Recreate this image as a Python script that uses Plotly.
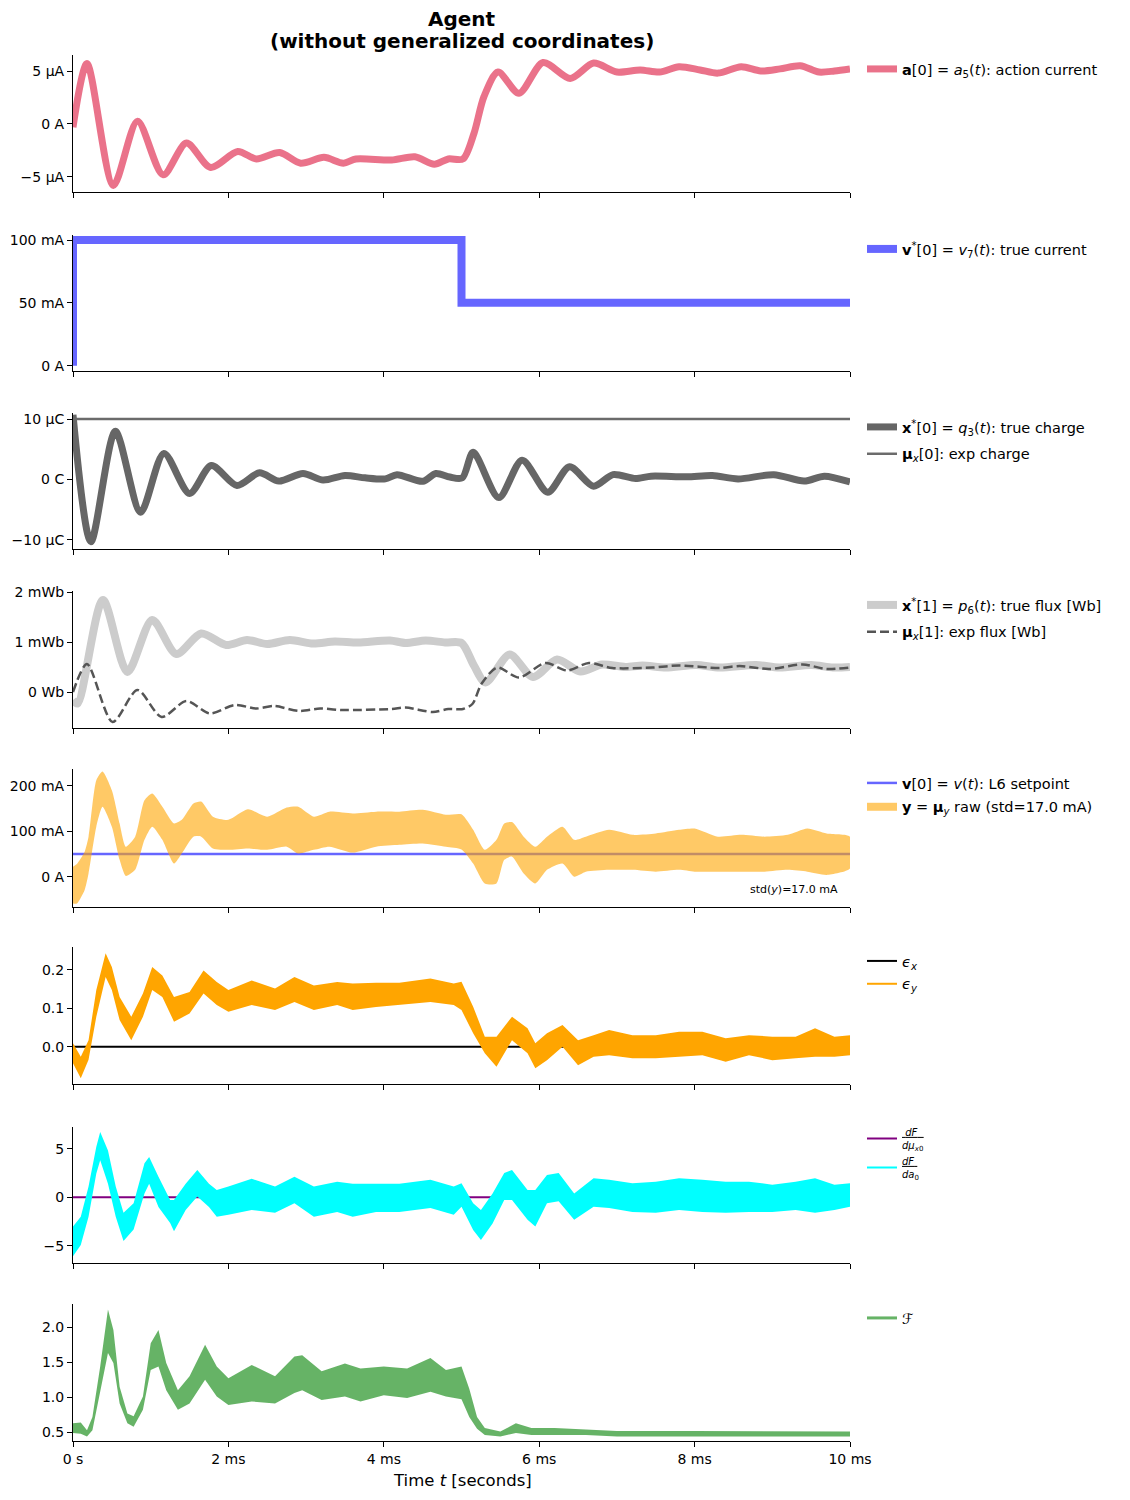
import plotly.graph_objects as go

FONT = "DejaVu Sans"

# ---------------- data (time in ms) ----------------
# a[0] action current [µA]
t_action = [0, 0.18, 0.52, 0.83, 1.16, 1.46, 1.77, 2.12, 2.36, 2.66, 2.93, 3.23, 3.48, 3.64,
            4.10, 4.40, 4.65, 4.83, 5.02, 5.16, 5.29, 5.47, 5.74, 6.05, 6.4, 6.7, 7.0, 7.3,
            7.55, 7.8, 8.07, 8.3, 8.6, 8.85, 9.1, 9.36, 9.6, 9.8, 10]
a_action = [-0.3, 5.7, -5.8, 0.25, -4.8, -1.8, -4.1, -2.6, -3.3, -2.7, -3.7, -3.15, -3.7, -3.3,
            -3.4, -3.1, -3.8, -3.3, -3.3, -0.9, 2.6, 4.9, 2.9, 5.8, 4.3, 5.75, 4.9, 5.1,
            4.9, 5.4, 5.1, 4.8, 5.4, 5.0, 5.2, 5.5, 4.9, 5.0, 5.2]

# v*[0] true current [mA]
t_true_cur = [0, 0, 5, 5, 10]
v_true_cur = [0, 100, 100, 50, 50]

# x*[0] true charge [µC], mu_x[0] expected charge [µC]
t_charge = [0, 0.23, 0.545, 0.87, 1.17, 1.50, 1.78, 2.11, 2.40, 2.65, 2.96, 3.22, 3.50, 3.76,
            4.02, 4.17, 4.50, 4.67, 4.85, 5.01, 5.15, 5.48, 5.78, 6.11, 6.39, 6.70, 6.95, 7.24,
            7.44, 7.90, 8.23, 8.56, 9.02, 9.41, 9.67, 10]
q_charge = [10.7, -10.3, 7.97, -5.4, 4.3, -2.3, 2.3, -1.0, 1.1, -0.27, 1.0, -0.1, 0.66, 0.27,
            0.1, 0.8, -0.3, 1.0, 0.4, 0.27, 4.5, -3.0, 3.2, -2.1, 2.1, -1.1, 0.8, 0.16,
            0.55, 0.44, 0.66, 0.1, 0.8, -0.27, 0.55, -0.4]
t_mu_charge = [0, 10]
mu_charge = [10, 10]

# x*[1] true flux [mWb], mu_x[1] expected flux [mWb]
t_flux = [0, 0.06, 0.385, 0.70, 1.02, 1.33, 1.65, 1.97, 2.24, 2.50, 2.79, 3.09, 3.37, 3.67,
          4.08, 4.28, 4.54, 4.79, 5.0, 5.16, 5.31, 5.62, 5.92, 6.23, 6.53, 6.81, 7.11, 7.33,
          7.63, 8.02, 8.32, 8.79, 9.09, 9.50, 9.78, 10]
p_flux = [-0.15, -0.22, 1.85, 0.41, 1.45, 0.77, 1.18, 0.95, 1.05, 0.97, 1.05, 0.98, 1.02, 1.0,
          1.04, 0.99, 1.04, 1.0, 0.99, 0.54, 0.2, 0.76, 0.31, 0.66, 0.42, 0.56, 0.51, 0.54,
          0.5, 0.55, 0.5, 0.55, 0.5, 0.55, 0.5, 0.51]
t_mu_flux = [0, 0.18, 0.51, 0.83, 1.14, 1.46, 1.76, 2.08, 2.36, 2.59, 2.91, 3.18, 3.46, 4.10,
             4.28, 4.63, 4.83, 5.02, 5.14, 5.26, 5.46, 5.74, 6.08, 6.36, 6.64, 6.94, 7.46, 7.80,
             8.32, 8.58, 8.96, 9.39, 9.70, 10]
mu_flux = [0.01, 0.57, -0.59, 0.05, -0.49, -0.17, -0.42, -0.25, -0.32, -0.27, -0.37, -0.32, -0.35, -0.33,
           -0.30, -0.39, -0.33, -0.33, -0.23, 0.18, 0.5, 0.3, 0.59, 0.44, 0.59, 0.49, 0.5, 0.54,
           0.49, 0.53, 0.47, 0.56, 0.47, 0.5]

# v[0] setpoint and raw observation y (upper / lower envelope of the noisy trace) [mA]
t_setpoint = [0, 10]
v_setpoint = [50, 50]
t_y = [0, 0.05, 0.15, 0.2, 0.3, 0.38, 0.5, 0.6, 0.68, 0.8, 0.92, 1.02, 1.15, 1.3, 1.4, 1.55,
       1.65, 1.8, 2.0, 2.25, 2.5, 2.75, 2.9, 3.1, 3.3, 3.6, 3.9, 4.2, 4.5, 4.8, 5.0, 5.15,
       5.3, 5.45, 5.55, 5.65, 5.8, 5.95, 6.1, 6.3, 6.45, 6.6, 6.9, 7.2, 7.5, 7.8, 8.0, 8.3,
       8.6, 8.9, 9.2, 9.45, 9.7, 10]
y_hi = [22, 28, 55, 88, 212, 231, 190, 117, 66, 88, 168, 183, 154, 117, 125, 161,
        165, 132, 125, 148, 132, 152, 154, 132, 143, 139, 143, 143, 147, 136, 137, 103,
        59, 81, 117, 120, 88, 66, 88, 110, 81, 88, 103, 92, 95, 103, 106, 88,
        92, 88, 92, 106, 95, 88]
y_lo = [-59, -59, -29, 7, 110, 154, 110, 37, 1.5, 15, 81, 110, 81, 29, 51, 88,
        88, 62, 59, 62, 59, 66, 51, 59, 66, 53, 66, 70, 73, 66, 60, 29,
        -15, -15, 37, 44, 7, -15, 15, 29, 0, 11, 15, 15, 11, 15, 11, 11,
        11, 11, 15, 11, 4, 18]
y_std_label = "std(<i>y</i>)=17.0 mA"

# prediction errors
t_eps_x = [0, 10]
eps_x = [0, 0]
t_eps = [0, 0.1, 0.2, 0.3, 0.42, 0.5, 0.6, 0.75, 0.9, 1.02, 1.15, 1.3, 1.5, 1.68, 1.85, 2.0,
         2.3, 2.6, 2.85, 3.1, 3.4, 3.6, 3.9, 4.2, 4.6, 4.9, 5.0, 5.15, 5.3, 5.45, 5.65, 5.85,
         5.95, 6.1, 6.3, 6.5, 6.7, 6.9, 7.2, 7.5, 7.8, 8.1, 8.4, 8.7, 9.0, 9.3, 9.55, 9.8, 10]
eps_y_hi = [0.009, -0.026, 0.017, 0.147, 0.243, 0.207, 0.129, 0.078, 0.138, 0.207, 0.185, 0.129,
            0.142, 0.198, 0.168, 0.147, 0.172, 0.151, 0.181, 0.159, 0.168, 0.164, 0.166, 0.166,
            0.177, 0.164, 0.169, 0.104, 0.026, 0.026, 0.078, 0.048, 0.009, 0.035, 0.056, 0.017,
            0.03, 0.043, 0.03, 0.03, 0.039, 0.039, 0.022, 0.03, 0.026, 0.026, 0.048, 0.026, 0.03]
eps_y_lo = [-0.043, -0.082, -0.034, 0.078, 0.181, 0.147, 0.069, 0.017, 0.078, 0.147, 0.129, 0.065,
            0.086, 0.138, 0.108, 0.091, 0.108, 0.095, 0.116, 0.095, 0.108, 0.095, 0.103, 0.108,
            0.116, 0.108, 0.095, 0.035, -0.017, -0.052, 0.017, -0.017, -0.056, -0.035, 0.0, -0.048,
            -0.026, -0.022, -0.03, -0.03, -0.026, -0.022, -0.039, -0.022, -0.035, -0.03, -0.026,
            -0.026, -0.022]

# free-energy gradients
t_dmu = [0, 10]
dF_dmu = [0, 0]
t_grad = [0, 0.1, 0.2, 0.3, 0.35, 0.45, 0.55, 0.65, 0.78, 0.92, 0.98, 1.1, 1.25, 1.3, 1.45, 1.6,
          1.75, 1.85, 2.0, 2.3, 2.6, 2.85, 3.1, 3.4, 3.6, 3.9, 4.2, 4.6, 4.9, 5.0, 5.15, 5.25,
          5.4, 5.55, 5.65, 5.85, 5.95, 6.1, 6.25, 6.45, 6.7, 6.9, 7.2, 7.5, 7.8, 8.1, 8.4, 8.7,
          9.0, 9.3, 9.55, 9.8, 10]
dF_da_hi = [-3.0, -2.0, 1.1, 5.2, 6.7, 4.8, 1.1, -1.6, -0.6, 3.5, 4.15, 2.1, -0.27, -0.27, 1.4, 2.8,
            1.4, 0.75, 1.1, 1.9, 1.1, 2.1, 1.1, 1.6, 1.4, 1.4, 1.4, 1.8, 1.1, 1.44, -0.6, -1.3,
            0.4, 2.5, 2.8, 0.75, 0.75, 2.3, 2.5, 0.4, 1.95, 1.8, 1.44, 1.6, 1.95, 1.8, 1.6, 1.6,
            1.3, 1.6, 1.95, 1.3, 1.44]
dF_da_lo = [-6.05, -4.9, -2.0, 2.45, 3.8, 1.4, -2.0, -4.5, -3.3, 0.4, 1.4, -1.0, -2.65, -3.5, -1.3, 0.07,
            -1.0, -2.0, -1.8, -1.3, -1.6, -0.6, -2.0, -1.5, -2.0, -1.5, -1.5, -1.1, -1.8, -0.96, -3.36, -4.4,
            -2.7, -0.27, -0.27, -2.3, -3.0, -0.6, -0.4, -2.3, -0.96, -1.1, -1.5, -1.6, -1.3, -1.5, -1.6, -1.5,
            -1.5, -1.3, -1.6, -1.3, -0.96]

# free energy F
t_F = [0, 0.1, 0.18, 0.25, 0.35, 0.45, 0.52, 0.6, 0.7, 0.78, 0.9, 1.0, 1.1, 1.2, 1.35, 1.5,
       1.7, 1.85, 2.0, 2.3, 2.6, 2.85, 2.95, 3.2, 3.5, 3.7, 4.0, 4.3, 4.6, 4.8, 5.0, 5.1,
       5.2, 5.3, 5.5, 5.7, 5.9, 6.2, 6.6, 7.0, 8.0, 9.0, 10]
F_hi = [0.63, 0.64, 0.53, 0.72, 1.44, 2.25, 1.96, 1.15, 0.77, 0.73, 1.01, 1.77, 1.96, 1.49, 1.1, 1.3,
        1.75, 1.44, 1.27, 1.46, 1.3, 1.58, 1.6, 1.37, 1.48, 1.41, 1.44, 1.41, 1.56, 1.39, 1.44, 1.12,
        0.72, 0.56, 0.51, 0.63, 0.56, 0.56, 0.54, 0.52, 0.52, 0.52, 0.51]
F_lo = [0.49, 0.48, 0.44, 0.53, 1.1, 1.63, 1.49, 0.91, 0.63, 0.58, 0.82, 1.39, 1.44, 1.1, 0.82, 0.91,
        1.25, 1.01, 0.89, 0.94, 0.91, 1.06, 1.1, 0.96, 1.01, 0.94, 1.03, 0.99, 1.08, 1.01, 0.97, 0.72,
        0.55, 0.46, 0.44, 0.49, 0.46, 0.46, 0.46, 0.44, 0.44, 0.44, 0.44]

x_tickvals = [0, 2, 4, 6, 8, 10]
x_ticktext = ["0 s", "2 ms", "4 ms", "6 ms", "8 ms", "10 ms"]

# ---------------- figure ----------------
W, H = 1130, 1500
OFF = 8  # page body margin; pixel positions below are in screen coordinates


def px(x):
    return (x - OFF) / W


def py(y):
    return 1 - (y - OFF) / H


fig = go.Figure()


def ax_names(i):
    return ("x", "y", "legend") if i == 1 else ("x%d" % i, "y%d" % i, "legend%d" % i)


def add_line(i, t, v, name, color, width, dash="solid", shape="spline"):
    xa, ya, lg = ax_names(i)
    fig.add_trace(go.Scatter(
        x=t, y=v, mode="lines", name=name, legendgroup=name,
        line=dict(color=color, width=width, dash=dash, shape=shape, smoothing=0.8),
        xaxis=xa, yaxis=ya, legend=lg, hoverinfo="skip"))


def add_band(i, t, hi, lo, name, color, legend_width, shape="linear"):
    # noisy trace drawn as its envelope
    xa, ya, lg = ax_names(i)
    fig.add_trace(go.Scatter(
        x=list(t) + list(t)[::-1], y=list(hi) + list(lo)[::-1], mode="lines", fill="toself",
        fillcolor=color, line=dict(width=0, color=color, shape=shape, smoothing=0.6),
        xaxis=xa, yaxis=ya, showlegend=False, hoverinfo="skip"))
    # legend handle drawn as a line, like the reference
    fig.add_trace(go.Scatter(
        x=[None], y=[None], mode="lines", name=name, legendgroup=name,
        line=dict(color=color, width=legend_width), xaxis=xa, yaxis=ya, legend=lg))


add_line(1, t_action, a_action, "<b>a</b>[0] = <i>a</i><sub>5</sub>(<i>t</i>): action current",
         "rgba(220,20,60,0.6)", 7)
add_line(2, t_true_cur, v_true_cur, "<b>v</b><sup>*</sup>[0] = <i>v</i><sub>7</sub>(<i>t</i>): true current",
         "rgba(0,0,255,0.6)", 8, shape="linear")
add_line(3, t_charge, q_charge, "<b>x</b><sup>*</sup>[0] = <i>q</i><sub>3</sub>(<i>t</i>): true charge",
         "#666666", 7)
add_line(3, t_mu_charge, mu_charge, "<b>μ</b><sub><i>x</i></sub>[0]: exp charge", "#6b6b6b", 2.5,
         shape="linear")
add_line(4, t_flux, p_flux, "<b>x</b><sup>*</sup>[1] = <i>p</i><sub>6</sub>(<i>t</i>): true flux [Wb]",
         "#cccccc", 8)
add_line(4, t_mu_flux, mu_flux, "<b>μ</b><sub><i>x</i></sub>[1]: exp flux [Wb]", "#555555", 2.5,
         dash="9px,4px")
add_line(5, t_setpoint, v_setpoint, "<b>v</b>[0] = <i>v</i>(<i>t</i>): L6 setpoint",
         "rgba(0,0,255,0.6)", 2.5, shape="linear")
add_band(5, t_y, y_hi, y_lo, "<b>y</b> = <b>μ</b><sub><i>y</i></sub> raw (std=17.0 mA)",
         "rgba(255,165,0,0.6)", 8, shape="spline")
add_line(6, t_eps_x, eps_x, "<i>ϵ</i><sub><i>x</i></sub>", "black", 2, shape="linear")
add_band(6, t_eps, eps_y_hi, eps_y_lo, "<i>ϵ</i><sub><i>y</i></sub>", "#ffa500", 2)
add_line(7, t_dmu, dF_dmu,
         "<span style='text-decoration:underline'>\u00a0<i>dF</i>\u00a0\u00a0</span><br><i>dμ</i><sub><i>x</i>0</sub>",
         "purple", 2, shape="linear")
add_band(7, t_grad, dF_da_hi, dF_da_lo,
         "<span style='text-decoration:underline'><i>dF</i>\u00a0</span><br><i>da</i><sub>0</sub>", "#00ffff", 2)
add_band(8, t_F, F_hi, F_lo, "<i>ℱ</i>", "rgba(0,128,0,0.6)", 3)

# panel geometry in screen pixels (top, bottom) and y ranges
panels = [(55, 192), (235, 371), (413, 549), (591, 728), (769, 907), (947, 1084), (1127, 1263), (1304, 1441)]
y_ranges = [[-6.42, 6.51], [-4.2, 104], [-11.5, 11.0], [-0.71, 2.03],
            [-66.6, 236.7], [-0.097, 0.259], [-6.75, 7.22], [0.376, 2.33]]
y_ticks = [
    ([-5, 0, 5], ["−5 µA", "0 A", "5 µA"]),
    ([0, 50, 100], ["0 A", "50 mA", "100 mA"]),
    ([-10, 0, 10], ["−10 µC", "0 C", "10 µC"]),
    ([0, 1, 2], ["0 Wb", "1 mWb", "2 mWb"]),
    ([0, 100, 200], ["0 A", "100 mA", "200 mA"]),
    ([0, 0.1, 0.2], ["0.0", "0.1", "0.2"]),
    ([-5, 0, 5], ["−5", "0", "5"]),
    ([0.5, 1.0, 1.5, 2.0], ["0.5", "1.0", "1.5", "2.0"]),
]
legend_gap = [2, 2, 5, 5, 2, 1, 0, 2]
legend_font = [14.5, 14.5, 14.5, 14.5, 14.5, 14.5, 10, 14.5]
legend_drop = [2, 2, 2, 2, 2, 2, 8, 2]

layout = dict(
    width=W, height=H, margin=dict(l=0, r=0, t=0, b=0, autoexpand=False),
    paper_bgcolor="white", plot_bgcolor="white",
    font=dict(family=FONT, size=14, color="black"),
)
axis_common = dict(showline=True, linecolor="black", linewidth=1, ticks="outside", ticklen=5,
                   tickwidth=1, tickcolor="black", showgrid=False, zeroline=False, automargin=False,
                   tickfont=dict(family=FONT, size=14, color="black"))
for i, ((top, bot), yr, (tv, tt)) in enumerate(zip(panels, y_ranges, y_ticks), start=1):
    sfx = "" if i == 1 else str(i)
    layout["xaxis" + sfx] = dict(axis_common, domain=[px(73), px(850)], range=[0, 10], anchor="y" + sfx,
                                 tickvals=x_tickvals, ticktext=x_ticktext, showticklabels=(i == 8))
    layout["yaxis" + sfx] = dict(axis_common, domain=[py(bot), py(top)], range=yr,
                                 anchor="x" + sfx, tickvals=tv, ticktext=tt)
    layout["legend" + sfx] = dict(x=px(862), y=py(top - legend_drop[i - 1]), xanchor="left", yanchor="top",
                                  bgcolor="rgba(0,0,0,0)",
                                  font=dict(family=FONT, size=legend_font[i - 1], color="black"),
                                  itemwidth=30, tracegroupgap=legend_gap[i - 1])
fig.update_layout(**layout)

fig.add_annotation(text="<b>Agent</b>", x=px(462), y=py(19), xref="paper", yref="paper",
                   xanchor="center", yanchor="middle", showarrow=False,
                   font=dict(family=FONT, size=20, color="black"))
fig.add_annotation(text="<b>(without generalized coordinates)</b>", x=px(462), y=py(41), xref="paper",
                   yref="paper", xanchor="center", yanchor="middle", showarrow=False,
                   font=dict(family=FONT, size=20, color="black"))
fig.add_annotation(text="Time <i>t</i> [seconds]", x=px(462), y=py(1480), xref="paper", yref="paper",
                   xanchor="center", yanchor="middle", showarrow=False,
                   font=dict(family=FONT, size=16.5, color="black"))
fig.add_annotation(text=y_std_label, x=px(840), y=py(889), xref="paper", yref="paper",
                   xanchor="right", yanchor="middle", showarrow=False,
                   font=dict(family=FONT, size=11, color="black"))

fig.write_html("out.html")
